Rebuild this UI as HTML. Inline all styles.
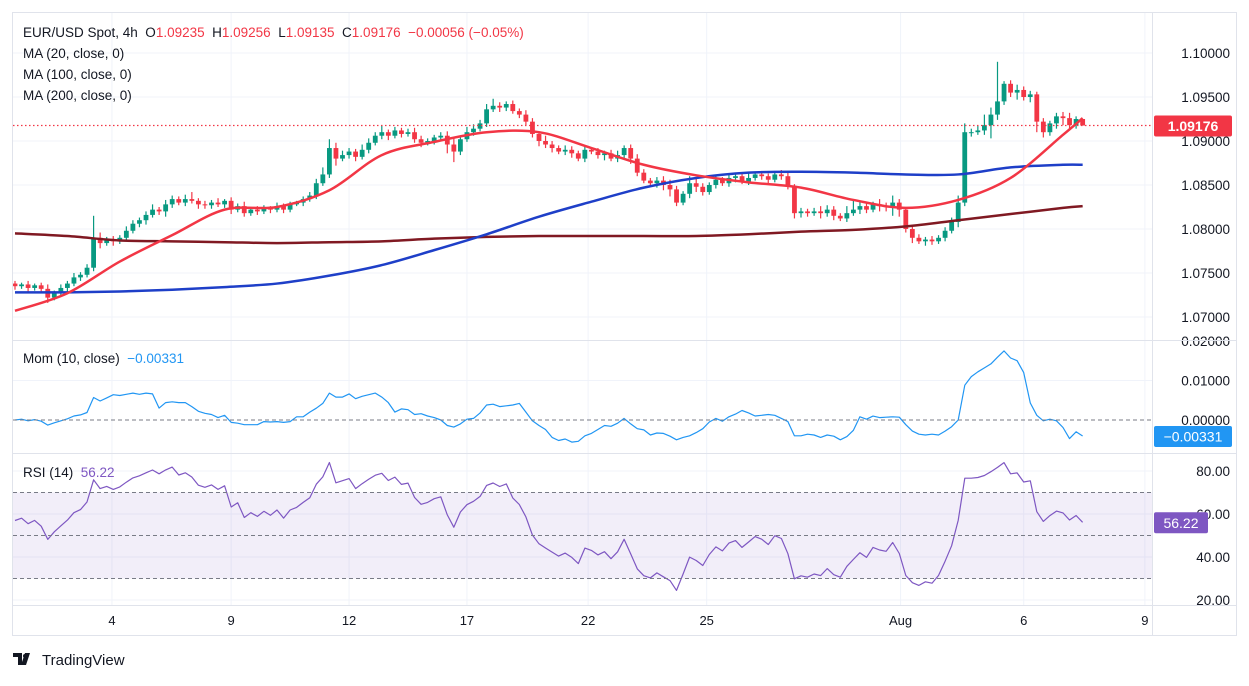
<!DOCTYPE html>
<html><head><meta charset="utf-8"><style>
body{margin:0;background:#fff;font-family:"Liberation Sans",sans-serif;}
svg text{font-family:"Liberation Sans",sans-serif;}
</style></head><body>
<svg id="c" width="1249" height="681" xmlns="http://www.w3.org/2000/svg"></svg>
<script>
const closes=[1.0735,1.0737,1.0733,1.0736,1.0732,1.0722,1.0728,1.0733,1.0738,1.0745,1.0748,1.0756,1.0790,1.0784,1.0788,1.0786,1.0790,1.0798,1.0806,1.0810,1.0816,1.0822,1.0820,1.0828,1.0834,1.0830,1.0834,1.0832,1.0828,1.0827,1.0830,1.0828,1.0832,1.0822,1.0826,1.0818,1.0822,1.0820,1.0824,1.0822,1.0826,1.0822,1.0828,1.0830,1.0834,1.0838,1.0852,1.0862,1.0892,1.0880,1.0884,1.0888,1.0882,1.0890,1.0898,1.0906,1.0910,1.0906,1.0912,1.0908,1.0910,1.0902,1.0898,1.0900,1.0904,1.0906,1.0896,1.0888,1.0902,1.0910,1.0914,1.0920,1.0936,1.0940,1.0938,1.0942,1.0934,1.0930,1.0922,1.0908,1.0900,1.0896,1.0892,1.0888,1.0890,1.0886,1.0880,1.0890,1.0888,1.0884,1.0886,1.0880,1.0884,1.0892,1.0880,1.0864,1.0855,1.0852,1.0855,1.0850,1.0845,1.0830,1.0840,1.0852,1.0848,1.0842,1.0850,1.0856,1.0852,1.0858,1.0860,1.0854,1.0858,1.0862,1.0860,1.0856,1.0862,1.0860,1.0848,1.0818,1.0820,1.0818,1.0820,1.0818,1.0822,1.0815,1.0812,1.0818,1.0822,1.0826,1.0822,1.0828,1.0826,1.0825,1.0830,1.0822,1.0800,1.0790,1.0786,1.0788,1.0786,1.0790,1.0798,1.0808,1.0830,1.0910,1.0910,1.0912,1.0918,1.0930,1.0945,1.0965,1.0955,1.0958,1.0950,1.0953,1.0922,1.0910,1.0920,1.0928,1.0926,1.0918,1.0925,1.09176];
const upWick=[3,2,4,2,3,5,2,4,3,5,3,4,25,6,3,4,3,5,4,3,4,6,3,5,4,3,5,8,3,4,3,5,2,4,3,5,3,4,3,2,4,3,3,2,3,4,5,8,10,6,5,4,3,6,5,4,8,3,4,3,4,5,4,3,3,4,5,8,3,6,5,4,6,8,4,3,4,3,5,4,3,6,4,3,5,4,3,4,3,4,3,4,5,3,4,5,4,3,4,5,6,4,3,8,5,4,3,4,3,4,3,4,6,3,4,3,4,5,4,3,4,3,4,6,5,4,3,8,12,5,4,3,6,4,8,4,3,5,4,3,4,3,4,5,8,10,4,5,12,8,45,3,4,6,4,4,3,4,3,4,5,6,3];
const dnWick=[4,3,5,3,4,6,3,3,4,3,4,3,4,6,3,5,3,4,3,4,5,3,4,6,4,3,4,3,5,4,4,3,4,5,3,4,3,4,3,4,3,4,3,2,4,3,4,3,4,8,3,4,5,3,4,3,4,5,3,4,3,4,5,3,4,3,10,12,4,3,4,3,4,3,5,4,3,4,5,4,6,4,5,3,4,5,3,4,3,4,6,3,4,5,6,4,3,4,5,6,8,4,3,5,6,4,3,4,3,4,5,3,4,3,4,6,3,4,3,6,5,4,3,6,4,5,3,4,3,5,4,3,6,5,10,8,4,6,3,5,4,3,4,3,6,4,5,3,5,15,6,4,5,8,4,6,12,6,4,6,8,5,4];
const maIdx=[0,8,16,24,32,40,48,56,64,72,80,88,96,104,112,120,128,136,144,152,160,163];
const ma20=[1.0707,1.0727,1.0763,1.0793,1.0822,1.0825,1.0844,1.0884,1.0899,1.0910,1.0910,1.0892,1.0873,1.0861,1.0853,1.0847,1.0833,1.0824,1.0833,1.0858,1.0907,1.0926];
const ma100=[1.0728,1.0728,1.0729,1.0731,1.0734,1.0738,1.0747,1.0759,1.0776,1.0794,1.0814,1.0831,1.0847,1.0858,1.0864,1.0865,1.0864,1.0862,1.0862,1.0870,1.0873,1.0873];
const ma200=[1.0795,1.0792,1.0787,1.0786,1.0785,1.0784,1.0785,1.0786,1.0789,1.0791,1.0792,1.0792,1.0792,1.0792,1.0794,1.0797,1.0799,1.0803,1.0810,1.0817,1.0824,1.0826];
const priceTicks=[1.10,1.095,1.09,1.085,1.08,1.075,1.07];
const momTicks=[0.02,0.01,0];
const rsiTicks=[80,60,40,20];
const dateLabels=["4","9","12","17","22","25","Aug","6","9"];
const dateIdx=[14.8,33,51,69,87.5,105.6,135.2,154,172.5];
const momLast="−0.00331";
const rsiLast="56.22";

const S=document.getElementById('c');const NS='http://www.w3.org/2000/svg';
function el(t,a,txt){const e=document.createElementNS(NS,t);for(const k in a)e.setAttribute(k,a[k]);if(txt!==undefined)e.textContent=txt;S.appendChild(e);return e;}
const X=i=>15+6.55*i;
const PY=p=>53+(1.10-p)/0.005*44;
const MY=v=>420-v/0.01*39.5;
const RY=v=>471+(80-v)*2.15;
const R=1152;
let f=el('rect',{x:12.5,y:12.5,width:1224,height:623,fill:'none',stroke:'#e0e3eb'});

dateIdx.forEach(d=>{let g=el('line',{x1:X(d),x2:X(d),y1:13,y2:605,stroke:'#f0f3fa'});});
priceTicks.forEach(p=>{let g=el('line',{x1:13,x2:R,y1:PY(p),y2:PY(p),stroke:'#f0f3fa'});
 let t=el('text',{x:1230,y:PY(p)+5,'text-anchor':'end','font-size':13.5,fill:'#131722'},p.toFixed(5));});
[0.01].forEach(v=>{el('line',{x1:13,x2:R,y1:MY(v),y2:MY(v),stroke:'#f0f3fa'});});
momTicks.forEach(v=>{let t=el('text',{x:1230,y:MY(v)+5,'text-anchor':'end','font-size':13.5,fill:'#131722'},v.toFixed(5));});
rsiTicks.forEach(v=>{el('line',{x1:13,x2:R,y1:RY(v),y2:RY(v),stroke:'#f0f3fa'});let t=el('text',{x:1230,y:RY(v)+5,'text-anchor':'end','font-size':13.5,fill:'#131722'},v.toFixed(2));});
[340,453,605].forEach(y=>{let s=el('line',{x1:13,x2:1237,y1:y+.5,y2:y+.5,stroke:'#e0e3eb'});});
el('line',{x1:R+.5,x2:R+.5,y1:13,y2:636,stroke:'#e0e3eb'});
const defs=el('defs',{});
function clip(id,y1,y2){const c=document.createElementNS(NS,'clipPath');c.id=id;const r=document.createElementNS(NS,'rect');r.setAttribute('x',13);r.setAttribute('y',y1);r.setAttribute('width',R-13);r.setAttribute('height',y2-y1);c.appendChild(r);defs.appendChild(c);}
clip('cp',13,340);clip('cm',341,453);clip('cr',454,605);
const gp=el('g',{'clip-path':'url(#cp)'});
function line(g,pts,col,w,name){const p=document.createElementNS(NS,'polyline');p.setAttribute('points',pts.map(q=>q[0].toFixed(1)+','+q[1].toFixed(1)).join(' '));p.setAttribute('fill','none');p.setAttribute('stroke',col);p.setAttribute('stroke-width',w);p.setAttribute('stroke-linejoin','round');


g.appendChild(p);return p;}
closes.forEach((c,i)=>{const o=i?closes[i-1]:1.0738;const up=c>=o;const col=up?'#089981':'#f23645';
 const hi=Math.max(o,c)+upWick[i]*0.0001,lo=Math.min(o,c)-dnWick[i]*0.0001;
 const w=document.createElementNS(NS,'line');w.setAttribute('x1',X(i));w.setAttribute('x2',X(i));w.setAttribute('y1',PY(hi));w.setAttribute('y2',PY(lo));w.setAttribute('stroke',col);w.setAttribute('stroke-width',1.2);
 
 
 gp.appendChild(w);
 const b=document.createElementNS(NS,'rect');const y1=PY(Math.max(o,c)),y2=PY(Math.min(o,c));b.setAttribute('x',X(i)-2.4);b.setAttribute('width',4.8);b.setAttribute('y',y1);b.setAttribute('height',Math.max(1,y2-y1));b.setAttribute('fill',col);
 
 
 gp.appendChild(b);});
function smooth(arr){return maIdx.map((k,j)=>[X(k),PY(arr[j])]);}
function curve(g,pts,col,w,name){let d='M'+pts[0][0]+','+pts[0][1];for(let i=1;i<pts.length;i++){const p0=pts[Math.max(0,i-2)],p1=pts[i-1],p2=pts[i],p3=pts[Math.min(pts.length-1,i+1)];d+=' C'+(p1[0]+(p2[0]-p0[0])/6)+','+(p1[1]+(p2[1]-p0[1])/6)+' '+(p2[0]-(p3[0]-p1[0])/6)+','+(p2[1]-(p3[1]-p1[1])/6)+' '+p2[0]+','+p2[1];}
 const p=document.createElementNS(NS,'path');p.setAttribute('d',d);p.setAttribute('fill','none');p.setAttribute('stroke',col);p.setAttribute('stroke-width',w);
 
 
 g.appendChild(p);}
curve(gp,smooth(ma200),'#801922',2.5,'ma200-line');
curve(gp,smooth(ma100),'#1e3fc8',2.5,'ma100-line');
curve(gp,smooth(ma20),'#f23645',2.5,'ma20-line');
const lc=closes[closes.length-1];
el('line',{x1:13,x2:R,y1:PY(lc),y2:PY(lc),stroke:'#f23645','stroke-width':1.2,'stroke-dasharray':'1.5,2.5'});
el('rect',{x:1154,y:PY(lc)-10,width:78,height:21,fill:'#f23645',rx:2});
let lt=el('text',{x:1193,y:PY(lc)+5.5,'text-anchor':'middle','font-size':14,'font-weight':'bold',fill:'#fff'},lc.toFixed(5));
const gm=el('g',{'clip-path':'url(#cm)'});
el('line',{x1:13,x2:R,y1:MY(0),y2:MY(0),stroke:'#787b86','stroke-dasharray':'4,3'});
const mom=closes.map((c,i)=>c-closes[Math.max(0,i-10)]);
line(gm,mom.map((v,i)=>[X(i),MY(v)]),'#2196f3',1.2,'momentum-line');
const lm=mom[mom.length-1];
el('rect',{x:1154,y:MY(lm)-10,width:78,height:21,fill:'#2196f3',rx:2});
let ml=el('text',{x:1193,y:MY(lm)+5.5,'text-anchor':'middle','font-size':14,fill:'#fff'},momLast);
const gr=el('g',{'clip-path':'url(#cr)'});
el('rect',{x:13,y:RY(70),width:R-13,height:RY(30)-RY(70),fill:'#7e57c2','fill-opacity':0.1});
[70,50,30].forEach(v=>el('line',{x1:13,x2:R,y1:RY(v),y2:RY(v),stroke:'#787b86','stroke-dasharray':'4,3'}));
let ag=0,al=0;const rsi=[];
closes.forEach((c,i)=>{if(i==0){ag=0.0004;al=0.0003;rsi.push(57);return;}const d=c-closes[i-1];ag=(ag*13+Math.max(d,0))/14;al=(al*13+Math.max(-d,0))/14;rsi.push(100-100/(1+ag/(al||1e-9)));});
line(gr,rsi.map((v,i)=>[X(i),RY(v)]),'#7e57c2',1.2,'rsi-line');
const lr=rsi[rsi.length-1];
el('rect',{x:1154,y:RY(lr)-10,width:54,height:21,fill:'#7e57c2',rx:2});
let rl=el('text',{x:1181,y:RY(lr)+5.5,'text-anchor':'middle','font-size':14,fill:'#fff'},rsiLast);
dateLabels.forEach((d,i)=>{let t=el('text',{x:X(dateIdx[i]),y:625,'text-anchor':'middle','font-size':13,fill:'#131722'},d);});
function tx(x,y,s,col,name){let t=el('text',{x:x,y:y,'font-size':13.5,fill:col},s);return t;}
const h=tx(23,37,'','#131722','price-legend');
h.innerHTML='EUR/USD Spot, 4h  O<tspan fill="#f23645">1.09235</tspan>  H<tspan fill="#f23645">1.09256</tspan>  L<tspan fill="#f23645">1.09135</tspan>  C<tspan fill="#f23645">1.09176</tspan>  <tspan fill="#f23645">−0.00056 (−0.05%)</tspan>';
h.style.whiteSpace='pre';
tx(23,58,'MA (20, close, 0)','#131722','ma20-legend');
tx(23,79,'MA (100, close, 0)','#131722','ma100-legend');
tx(23,100,'MA (200, close, 0)','#131722','ma200-legend');
const m=tx(23,363,'','#131722','mom-legend');m.innerHTML='Mom (10, close)  <tspan fill="#2196f3">−0.00331</tspan>';m.style.whiteSpace='pre';
const r=tx(23,477,'','#131722','rsi-legend');r.innerHTML='RSI (14)  <tspan fill="#7e57c2">56.22</tspan>';r.style.whiteSpace='pre';
el('path',{d:'M13 653h9v12h-4v-8h-5zM25 653h5l-4 12h-5z',fill:'#131722'});
el('circle',{cx:25,cy:656,r:2,fill:'#131722'});
let lg=el('text',{x:42,y:665,'font-size':15,fill:'#131722'},'TradingView');
</script>
</body></html>
